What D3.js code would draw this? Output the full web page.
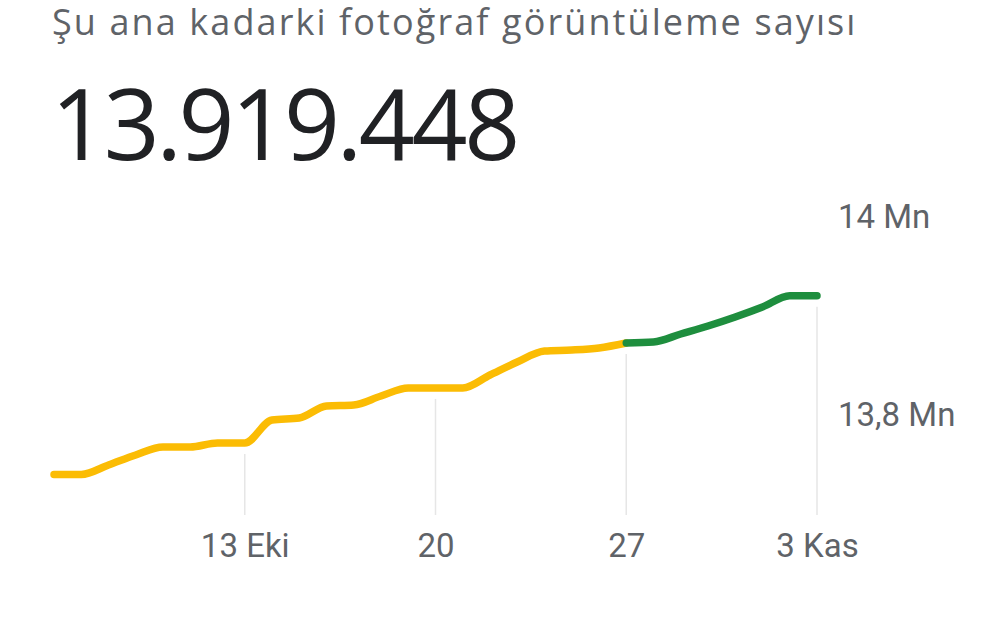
<!DOCTYPE html>
<html><head><meta charset="utf-8">
<script src="https://cdn.jsdelivr.net/npm/d3@7"></script>
<style>html,body{margin:0;padding:0;background:#fff;}svg{display:block;}</style>
</head><body>
<svg id="c" width="1000" height="622"></svg>
<script>
const title = "Şu ana kadarki fotoğraf görüntüleme sayısı";
const total = "13.919.448";
const dates = ["2023-10-06","2023-10-07","2023-10-08","2023-10-09","2023-10-10","2023-10-11","2023-10-12","2023-10-13","2023-10-14","2023-10-15","2023-10-16","2023-10-17","2023-10-18","2023-10-19","2023-10-20","2023-10-21","2023-10-22","2023-10-23","2023-10-24","2023-10-25","2023-10-26","2023-10-27","2023-10-28","2023-10-29","2023-10-30","2023-10-31","2023-11-01","2023-11-02","2023-11-03"];
const views = [13739000,13739000,13748500,13758600,13766700,13766700,13770700,13770700,13793900,13795900,13808100,13809100,13818200,13826300,13826300,13826300,13839400,13852500,13863600,13864600,13866700,13871700,13872700,13880800,13888900,13898000,13908100,13919400,13919448];
const splitDate = "2023-10-27";
const xTickDates = ["2023-10-13","2023-10-20","2023-10-27","2023-11-03"];
const xTickLabels = ["13 Eki","20","27","3 Kas"];
const yTickValues = [13800000, 14000000];
const yTickLabels = ["13,8 Mn","14 Mn"];

const parse = d3.timeParse("%Y-%m-%d");
const data = dates.map((d,i)=>({date:parse(d), v:views[i]}));
const split = parse(splitDate);

const svg = d3.select("#c");
const x = d3.scaleTime().domain([parse(dates[0]), parse(dates[dates.length-1])]).range([54, 817]);
const y = d3.scaleLinear().domain([13800000, 14000000]).range([414, 216]);

svg.append("text").attr("x",52).attr("y",35)
  .attr("font-family","'Open Sans', sans-serif").attr("font-size",36)
  .attr("letter-spacing",2.1)
  .attr("fill","#5f6368").text(title);
svg.append("text").attr("x",51).attr("y",160)
  .attr("font-family","'Open Sans', sans-serif").attr("font-size",98)
  .attr("letter-spacing",-3.4)
  .attr("fill","#202124").text(total);

// vertical grid lines from the line down
const byTime = new Map(data.map(d=>[+d.date, d.v]));
svg.append("g").selectAll("line").data(xTickDates.map(parse)).join("line")
  .attr("x1",d=>x(d)).attr("x2",d=>x(d))
  .attr("y1",d=>y(byTime.get(+d))+11).attr("y2",515)
  .attr("stroke","#e6e6e6").attr("stroke-width",1.5);

const line = d3.line().x(d=>x(d.date)).y(d=>y(d.v)).curve(d3.curveMonotoneX);
svg.append("path").datum(data.filter(d=>d.date<=split))
  .attr("d",line).attr("fill","none").attr("stroke","#fbbc04")
  .attr("stroke-width",7.5).attr("stroke-linecap","round").attr("stroke-linejoin","round");
svg.append("path").datum(data.filter(d=>d.date>=split))
  .attr("d",line).attr("fill","none").attr("stroke","#1e8e3e")
  .attr("stroke-width",7.5).attr("stroke-linecap","round").attr("stroke-linejoin","round");

// x axis labels
const xAxis = d3.axisBottom(x).tickValues(xTickDates.map(parse))
  .tickFormat((d,i)=>xTickLabels[i]).tickSize(0).tickPadding(0);
const gx = svg.append("g").attr("transform","translate(0,522)").call(xAxis);
gx.select(".domain").remove();
gx.selectAll("text").attr("font-family","Roboto, sans-serif").attr("font-size",33).attr("fill","#5f6368").attr("dy","1.05em");

// y axis labels
const yAxis = d3.axisRight(y).tickValues(yTickValues)
  .tickFormat((d)=>yTickLabels[yTickValues.indexOf(d)]).tickSize(0).tickPadding(0);
const gy = svg.append("g").attr("transform","translate(838,0)").call(yAxis);
gy.select(".domain").remove();
gy.selectAll("text").attr("font-family","Roboto, sans-serif").attr("font-size",33).attr("fill","#5f6368").attr("dy","0.35em");
</script>
</body></html>
